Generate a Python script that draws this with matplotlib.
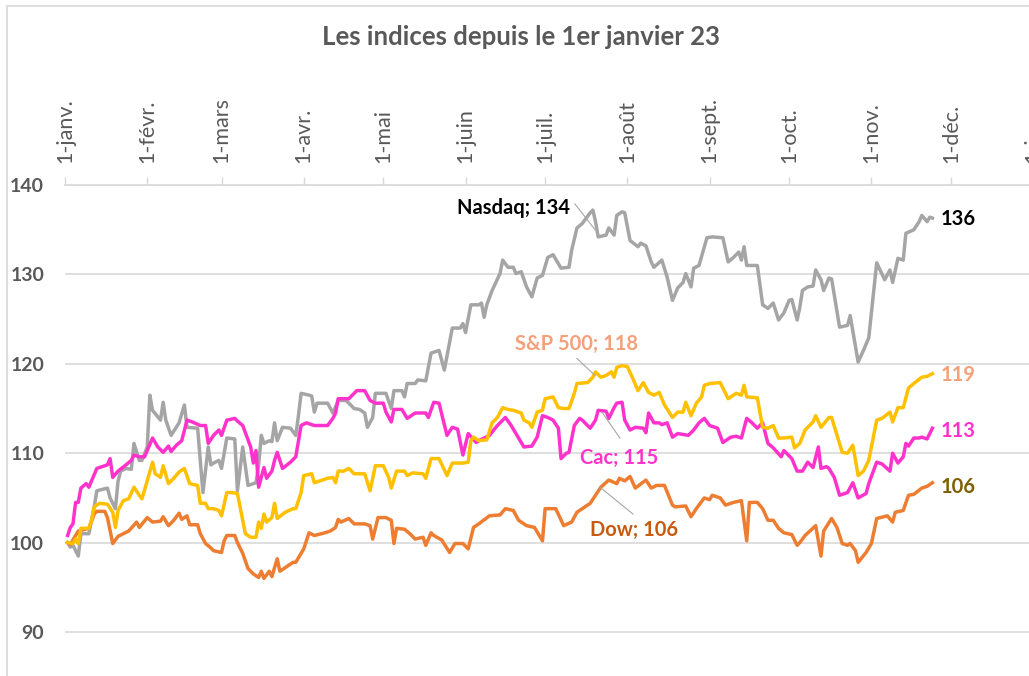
import matplotlib.pyplot as plt
from matplotlib.patches import Rectangle

plt.rcParams['font.family'] = ['Lato', 'DejaVu Sans']

# (jour de l'annee, niveau base 100 au 1er janvier)
nasdaq = [(1, 100.0), (2, 99.5), (3, 99.7), (5, 98.5), (6, 101.0), (9, 101.0), (11, 104.0), (12, 105.8),
          (16, 106.1), (17, 105.0), (19, 103.8), (20, 106.9), (21, 108.0), (23, 108.3), (25, 108.2),
          (26, 111.1), (28, 109.2), (29, 109.2), (31, 110.7), (32, 116.5), (33, 114.8), (36, 113.7),
          (37, 115.7), (38, 113.7), (40, 112.0), (43, 113.4), (45, 115.4), (46, 112.9), (50, 112.8),
          (52, 105.6), (54, 110.7), (55, 108.7), (56, 108.9), (58, 109.2), (59, 108.3), (61, 111.7),
          (64, 111.6), (65, 105.8), (67, 110.7), (69, 106.4), (72, 106.7), (73, 108.7), (74, 112.0),
          (75, 111.1), (77, 111.4), (78, 111.3), (79, 113.4), (80, 111.4), (82, 112.9), (85, 112.8),
          (87, 112.0), (88, 114.2), (89, 116.7), (92, 116.5), (93, 116.4), (94, 114.6), (95, 115.6),
          (99, 115.6), (101, 114.5), (103, 115.9), (106, 115.9), (109, 115.0), (111, 114.9), (113, 114.5),
          (114, 112.9), (116, 114.0), (117, 116.7), (121, 116.7), (123, 115.0), (124, 117.0), (127, 117.0),
          (128, 116.3), (129, 117.8), (132, 117.8), (133, 118.2), (136, 118.1), (138, 121.2), (141, 121.5),
          (143, 119.3), (146, 124.0), (149, 124.0), (150, 124.5), (151, 123.5), (153, 126.6), (156, 126.6),
          (157, 126.8), (158, 125.2), (159, 126.6), (161, 128.2), (164, 130.1), (165, 131.6), (167, 130.8),
          (169, 130.8), (170, 130.1), (172, 130.3), (174, 128.6), (176, 127.5), (178, 129.6), (180, 129.9),
          (182, 131.9), (184, 132.2), (187, 130.7), (190, 130.8), (191, 132.7), (193, 135.2), (195, 135.7),
          (198, 136.9), (199, 137.2), (200, 135.9), (201, 134.2), (204, 134.4), (205, 135.2), (207, 134.4),
          (208, 136.6), (210, 137.0), (211, 136.9), (213, 133.8), (216, 133.1), (217, 133.5), (219, 133.2),
          (221, 131.4), (222, 130.8), (225, 131.6), (227, 129.7), (229, 127.1), (231, 128.5), (233, 129.1),
          (234, 130.1), (236, 128.6), (237, 130.7), (239, 131.0), (242, 134.1), (244, 134.2), (248, 134.1),
          (250, 131.4), (252, 131.9), (254, 132.5), (255, 131.6), (256, 133.1), (257, 131.0), (261, 131.0),
          (263, 126.6), (265, 126.2), (267, 126.8), (269, 124.9), (271, 125.7), (273, 127.1), (274, 127.2),
          (276, 124.9), (277, 126.3), (278, 128.2), (280, 128.6), (282, 128.7), (283, 130.5), (285, 129.4),
          (286, 128.2), (288, 129.6), (289, 129.5), (292, 124.1), (295, 124.3), (296, 125.4), (299, 120.2),
          (301, 121.5), (303, 122.9), (306, 131.3), (309, 129.4), (311, 130.5), (312, 129.1), (314, 131.8),
          (316, 131.6), (317, 134.6), (320, 135.0), (322, 135.9), (323, 136.6), (325, 135.9), (326, 136.4),
          (327, 136.3)]

sp500 = [(1, 100.0), (3, 99.9), (4, 100.4), (5, 99.9), (6, 101.6), (9, 101.6), (10, 102.5), (11, 104.0),
         (13, 104.4), (16, 104.3), (18, 103.4), (19, 101.7), (20, 103.6), (22, 104.7), (24, 104.9),
         (26, 106.2), (28, 105.3), (29, 104.9), (31, 106.9), (33, 109.0), (34, 107.7), (36, 107.3),
         (37, 108.6), (39, 106.6), (41, 107.2), (43, 107.9), (45, 108.3), (47, 106.6), (50, 106.4),
         (51, 104.4), (53, 104.4), (54, 103.8), (56, 103.8), (58, 103.6), (59, 103.0), (61, 105.6),
         (63, 105.6), (65, 105.5), (66, 104.0), (68, 101.0), (70, 100.6), (72, 100.6), (73, 102.3),
         (74, 101.6), (75, 103.2), (76, 102.3), (78, 102.8), (79, 104.4), (80, 102.7), (83, 103.4),
         (86, 103.8), (87, 103.8), (89, 105.6), (90, 107.5), (93, 107.7), (94, 106.7), (96, 106.9),
         (99, 107.2), (101, 107.3), (102, 106.7), (103, 108.0), (105, 108.0), (107, 108.3), (109, 107.7),
         (113, 107.7), (115, 105.8), (117, 108.6), (120, 108.6), (122, 107.3), (123, 106.1), (125, 108.0),
         (128, 108.0), (129, 107.5), (131, 107.8), (135, 107.7), (136, 107.2), (138, 109.4), (141, 109.4),
         (144, 107.5), (146, 108.9), (150, 108.9), (152, 109.0), (153, 111.4), (154, 111.8), (156, 111.4),
         (159, 111.5), (161, 113.4), (163, 114.0), (165, 115.1), (167, 114.9), (169, 114.8), (172, 114.5),
         (173, 113.7), (175, 113.4), (176, 112.9), (178, 114.6), (180, 114.8), (181, 116.1), (184, 116.3),
         (186, 115.1), (188, 115.0), (190, 115.0), (192, 116.7), (193, 117.8), (197, 117.9), (199, 118.5),
         (200, 119.1), (202, 118.5), (204, 118.7), (206, 119.1), (207, 118.5), (208, 119.6), (210, 119.8),
         (212, 119.7), (214, 118.4), (216, 117.0), (218, 117.9), (220, 116.8), (222, 116.5), (224, 116.8),
         (226, 115.4), (229, 114.0), (231, 114.6), (233, 114.6), (234, 115.7), (236, 114.2), (238, 115.6),
         (240, 116.3), (241, 117.6), (243, 117.8), (247, 117.9), (250, 116.1), (253, 116.7), (255, 116.5),
         (256, 117.6), (257, 116.3), (261, 116.2), (263, 112.9), (265, 112.8), (267, 113.1), (269, 111.7),
         (271, 111.7), (274, 111.8), (275, 110.6), (277, 111.1), (279, 112.6), (282, 113.5), (283, 114.2),
         (285, 112.9), (288, 114.0), (289, 114.0), (293, 110.1), (295, 110.0), (297, 110.9), (299, 107.5),
         (301, 108.0), (303, 109.2), (306, 113.7), (308, 113.9), (311, 114.6), (312, 113.5), (314, 115.1),
         (316, 115.1), (318, 117.3), (320, 117.8), (323, 118.5), (325, 118.6), (327, 118.9)]

cac = [(1, 100.8), (2, 101.7), (3, 102.1), (4, 104.5), (5, 104.5), (6, 106.1), (8, 106.6), (9, 106.2),
       (12, 108.3), (16, 108.7), (17, 109.4), (18, 107.3), (20, 108.0), (23, 108.7), (25, 109.2),
       (26, 109.8), (28, 109.6), (30, 109.6), (33, 111.7), (35, 110.7), (37, 110.1), (39, 110.8),
       (40, 110.2), (42, 110.9), (44, 111.4), (46, 113.7), (48, 113.5), (51, 113.1), (53, 113.1),
       (54, 111.1), (56, 112.0), (58, 112.6), (59, 112.0), (61, 113.7), (64, 113.9), (65, 113.6),
       (67, 113.1), (70, 110.7), (71, 108.9), (72, 110.3), (73, 106.2), (75, 108.4), (76, 107.2),
       (78, 108.0), (79, 109.2), (80, 110.1), (82, 108.3), (85, 109.0), (87, 109.6), (89, 113.1),
       (91, 113.4), (94, 113.1), (99, 113.1), (101, 113.9), (102, 114.5), (103, 116.1), (107, 116.1),
       (109, 116.7), (110, 117.0), (113, 117.0), (115, 115.9), (117, 115.6), (120, 115.6), (121, 114.6),
       (123, 113.5), (124, 114.9), (127, 114.9), (129, 113.9), (132, 114.5), (136, 114.5), (137, 114.0),
       (139, 115.7), (141, 115.6), (144, 112.0), (146, 112.9), (148, 112.7), (150, 109.8), (152, 112.2),
       (155, 111.2), (156, 111.4), (160, 112.0), (163, 113.1), (166, 114.0), (168, 113.2), (170, 112.2),
       (173, 110.7), (176, 110.8), (178, 111.8), (180, 114.2), (182, 114.0), (184, 113.7), (186, 112.8),
       (187, 109.4), (189, 110.0), (190, 110.1), (192, 113.1), (194, 113.9), (195, 113.7), (198, 112.8),
       (200, 113.7), (201, 114.8), (204, 114.7), (205, 113.9), (207, 115.1), (208, 115.6), (210, 115.7),
       (211, 113.7), (213, 112.6), (215, 112.9), (218, 112.8), (219, 112.3), (220, 114.5), (222, 113.4),
       (224, 113.4), (225, 113.2), (227, 113.4), (229, 111.8), (231, 112.2), (235, 112.0), (237, 112.6),
       (239, 113.4), (241, 113.9), (243, 113.1), (246, 112.8), (248, 111.2), (251, 111.8), (253, 111.9),
       (255, 111.7), (257, 113.9), (259, 113.4), (261, 112.8), (263, 113.4), (265, 111.1), (267, 110.6),
       (270, 109.6), (271, 110.3), (274, 109.4), (276, 108.0), (278, 108.0), (280, 109.0), (282, 108.4),
       (284, 110.7), (285, 108.3), (287, 108.5), (288, 108.3), (290, 107.3), (292, 105.3), (295, 105.6),
       (297, 106.7), (299, 105.0), (302, 105.5), (303, 106.6), (306, 109.0), (308, 108.8), (311, 108.0),
       (312, 110.0), (314, 108.9), (316, 109.6), (317, 111.1), (318, 110.8), (320, 111.7), (322, 111.7),
       (323, 111.8), (325, 111.6), (327, 112.8)]

dow = [(1, 100.0), (2, 99.8), (5, 101.3), (9, 101.6), (11, 103.2), (12, 103.5), (15, 103.5), (16, 102.8),
       (18, 99.9), (20, 100.7), (24, 101.3), (27, 102.3), (28, 101.7), (31, 102.8), (33, 102.3),
       (36, 102.4), (37, 102.9), (39, 101.9), (41, 102.5), (43, 103.3), (44, 102.6), (46, 103.0),
       (47, 102.0), (50, 102.0), (51, 101.0), (53, 99.9), (55, 99.4), (56, 99.1), (59, 98.9), (60, 100.2),
       (61, 100.8), (64, 100.8), (65, 100.0), (67, 98.8), (69, 97.1), (71, 96.5), (73, 96.1), (74, 96.8),
       (75, 96.0), (77, 96.8), (78, 96.2), (80, 98.2), (81, 96.8), (84, 97.4), (86, 97.8), (87, 97.8),
       (90, 99.3), (92, 101.1), (94, 100.8), (98, 101.1), (100, 101.3), (102, 101.7), (103, 102.6),
       (104, 102.3), (107, 102.7), (109, 102.1), (113, 102.1), (115, 101.9), (116, 100.4), (118, 102.8),
       (121, 102.8), (123, 102.5), (124, 99.9), (125, 101.6), (128, 101.5), (130, 101.0), (132, 100.4),
       (135, 100.6), (136, 99.7), (138, 101.1), (139, 100.8), (142, 100.3), (145, 98.9), (147, 99.9),
       (150, 99.9), (152, 99.3), (154, 101.7), (156, 102.1), (160, 103.0), (164, 103.1), (166, 103.8),
       (169, 103.6), (171, 102.5), (174, 101.9), (177, 101.7), (180, 100.2), (181, 103.8), (185, 103.8),
       (188, 101.9), (191, 102.3), (193, 103.4), (198, 104.4), (202, 106.2), (205, 107.0), (208, 106.6),
       (209, 107.2), (211, 106.9), (213, 107.4), (215, 106.1), (219, 107.0), (221, 106.1), (223, 106.4),
       (226, 106.4), (229, 104.2), (230, 104.0), (234, 104.1), (236, 102.9), (238, 103.8), (241, 105.0),
       (243, 104.8), (244, 105.3), (247, 105.0), (249, 104.2), (252, 104.5), (255, 104.7), (257, 100.2),
       (258, 104.5), (261, 104.5), (263, 103.8), (265, 102.5), (267, 102.5), (269, 101.6), (271, 101.1),
       (274, 100.9), (276, 99.7), (277, 100.0), (279, 100.8), (283, 101.9), (285, 98.5), (286, 101.3),
       (289, 102.7), (291, 101.7), (293, 99.9), (295, 99.7), (296, 99.9), (298, 99.1), (299, 97.8),
       (302, 98.9), (304, 99.9), (306, 102.7), (310, 103.0), (312, 102.3), (313, 103.4), (316, 103.6),
       (318, 105.3), (320, 105.4), (323, 106.1), (325, 106.3), (327, 106.7)]

month_days = [0, 31, 59, 90, 120, 151, 181, 212, 243, 273, 304, 334, 365]
month_labels = ['1-janv.', '1-févr.', '1-mars', '1-avr.', '1-mai', '1-juin', '1-juil.',
                '1-août', '1-sept.', '1-oct.', '1-nov.', '1-déc.', '1-janv.']

names = ['Nasdaq', 'S&P 500', 'Cac', 'Dow']
callout_vals = [134, 118, 115, 106]
end_vals = [136, 119, 113, 106]

line_colors = ['#A5A5A5', '#FFC000', '#FF33CC', '#ED7D31']
callout_colors = ['#000000', '#F4A07A', '#FF33CC', '#C55A11']
end_colors = ['#000000', '#F4A07A', '#FF33CC', '#7F6000']

grey_txt = '#595959'
grid_col = '#D9D9D9'

fig = plt.figure(figsize=(10.29, 6.76), dpi=100)
ax = fig.add_axes([65 / 1029, -0.0011, (1073 - 65) / 1029, 0.7274])
ax.set_xlim(0, 380)
ax.set_ylim(85, 140)

# outer chart frame (cropped at right / bottom)
fig.patches.append(Rectangle((7 / 1029, -0.05), 1.2, 1.05 - 6 / 676, transform=fig.transFigure,
                             fill=False, edgecolor=grid_col, lw=1.2))

for spine in ['left', 'right', 'bottom']:
    ax.spines[spine].set_visible(False)
ax.spines['top'].set_color(grid_col)
ax.spines['top'].set_linewidth(1.2)

ax.grid(axis='y', color=grid_col, lw=1.2)
ax.set_axisbelow(True)

ax.xaxis.tick_top()
ax.set_xticks(month_days)
ax.set_xticklabels(month_labels, rotation=90)
ax.tick_params(axis='x', length=6, width=1, color=grid_col, pad=10, labelsize=15.5, labelcolor=grey_txt)

ax.set_yticks([90, 100, 110, 120, 130, 140])
ax.tick_params(axis='y', length=0, pad=15, labelsize=14, labelcolor=grey_txt)
for lbl in ax.get_yticklabels():
    lbl.set_fontweight('bold')

series = [nasdaq, sp500, cac, dow]
order = [0, 3, 2, 1]
for i in order:
    days, vals = zip(*series[i])
    ax.plot(days, vals, color=line_colors[i], lw=2.5, zorder=3)

# data labels at the right end
for i in range(4):
    ax.text(330, [136.2, 118.8, 112.5, 106.2][i], str(end_vals[i]), color=end_colors[i],
            fontsize=14.5, fontweight='bold', ha='left', va='center')

# call-outs with leader lines
leader = dict(color='#A6A6A6', lw=0.8, zorder=4)
ax.text(190.4, 137.4, f'{names[0]}; {callout_vals[0]}', color=callout_colors[0],
        fontsize=14.5, fontweight='bold', ha='right', va='center')
ax.plot([192.2, 199.8], [137.9, 135.0], **leader)

ax.text(192.8, 122.2, f'{names[1]}; {callout_vals[1]}', color=callout_colors[1],
        fontsize=14.5, fontweight='bold', ha='center', va='center')
ax.plot([193.0, 199.8], [120.6, 118.7], **leader)

ax.text(209.0, 109.5, f'{names[2]}; {callout_vals[2]}', color=callout_colors[2],
        fontsize=14.5, fontweight='bold', ha='center', va='center')
ax.plot([202.4, 209.2], [114.6, 111.7], **leader)

ax.text(214.5, 101.4, f'{names[3]}; {callout_vals[3]}', color=callout_colors[3],
        fontsize=14.5, fontweight='bold', ha='center', va='center')
ax.plot([201.7, 214.1], [106.2, 103.2], **leader)

fig.text(0.506, 0.945, 'Les indices depuis le 1er janvier 23', ha='center', va='center',
         fontsize=18.5, fontweight='bold', color=grey_txt)

fig.savefig('out.png', dpi=100)
